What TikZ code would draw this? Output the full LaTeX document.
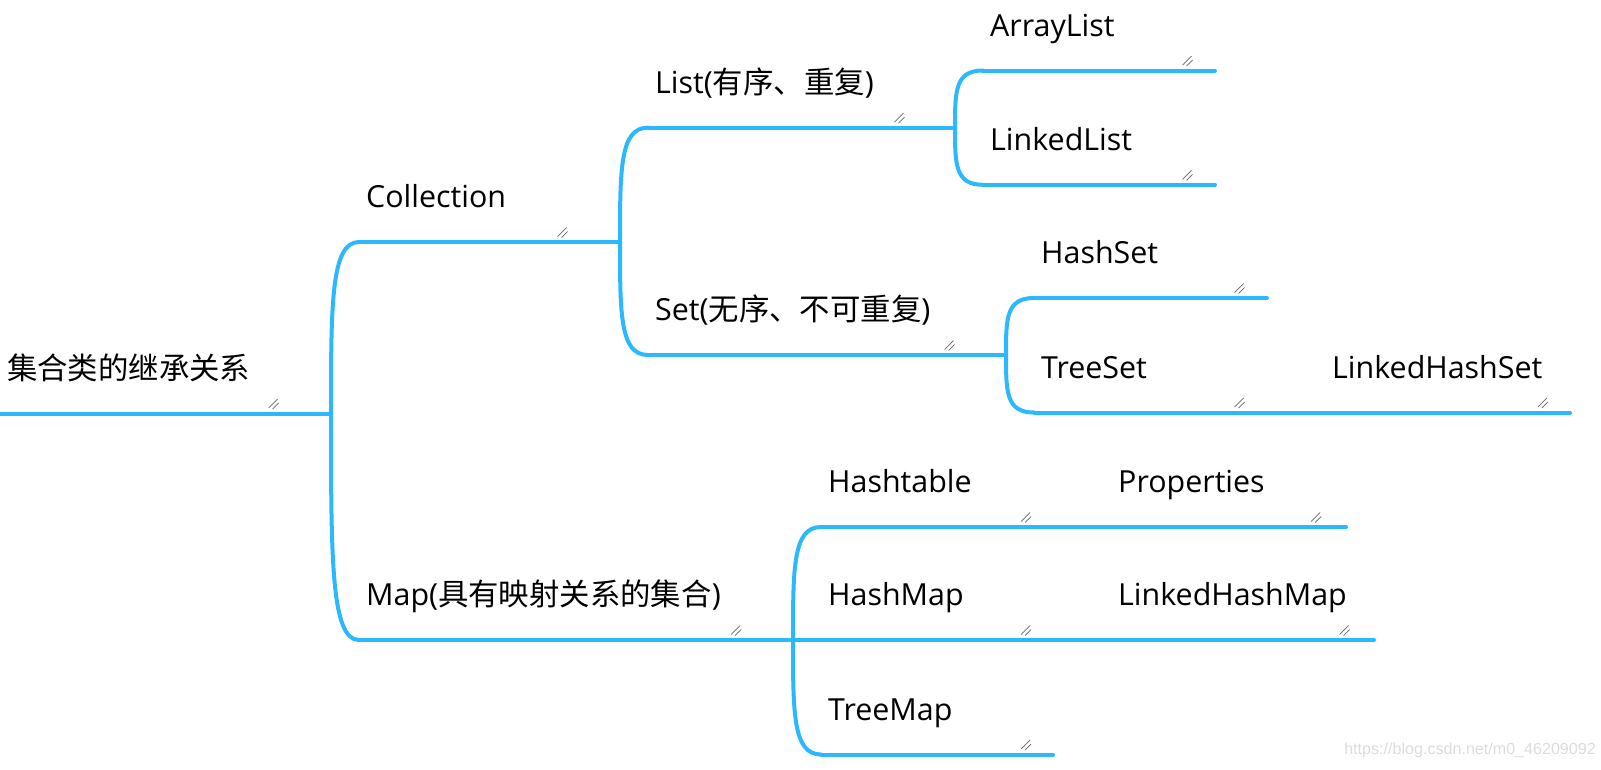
\documentclass[tikz,border=0pt]{standalone}
\usepackage{fontspec}
\setmainfont{Open Sans}
\newfontfamily\cjk{Noto Sans CJK SC}
\newfontfamily\wmfont{Liberation Sans}
\usetikzlibrary{calc}
\definecolor{branchblue}{RGB}{44,184,255}
\tikzset{
	branch/.style={draw=branchblue, line width=4pt, line cap=round},
	topic/.style={anchor=base west, inner sep=0pt, font=\fontsize{30.4}{36}\selectfont},
	grip/.pic={\draw[black!60, line width=0.7pt] (-5,4) -- (4,-5) (-1,5) -- (5,-1);}
}
\begin{document}
\begin{tikzpicture}[x=1pt, y=-1pt]
		\useasboundingbox (0,0) rectangle (1601,769);
		% topics: name / start of underline / end of underline / text
		\foreach \n/\s/\e/\t in {%
			root/{0,413.5}/{331,413.5}/{\cjk 集合类的继承关系},
			coll/{359,242}/{620,242}/{Collection},
			map/{359,640}/{793,640}/{Map({\cjk 具有映射关系的集合})},
			list/{648,127.6}/{955,127.6}/{List({\cjk 有序、重复})},
			set/{648,355}/{1006,355}/{Set({\cjk 无序、不可重复})},
			arraylist/{983,70.5}/{1215,70.5}/{ArrayList},
			linkedlist/{983,184.8}/{1215,184.8}/{LinkedList},
			hashset/{1034,298}/{1267,298}/{HashSet},
			treeset/{1034,412.5}/{1267,412.5}/{TreeSet},
			lhs/{1325,412.5}/{1570,412.5}/{LinkedHashSet},
			hashtable/{821,527}/{1053,527}/{Hashtable},
			properties/{1111,527}/{1346,527}/{Properties},
			hashmap/{821,640}/{1053,640}/{HashMap},
			lhm/{1111,640}/{1374,640}/{LinkedHashMap},
			treemap/{821,754.5}/{1053,754.5}/{TreeMap}} {
			\coordinate (\n) at (\s);
			\coordinate (\n-e) at (\e);
			\draw[branch] (\n) -- (\n-e);
			\node[topic] (\n-t) at ($(\n)+(7,-34.5)$) {\t};
		}
		% curved brackets from parent to child
		\foreach \j/\c in {root-e/coll, root-e/map, coll-e/list, coll-e/set,
			list-e/arraylist, list-e/linkedlist, set-e/hashset, set-e/treeset,
			map-e/hashtable, map-e/treemap}
		\draw[branch] (\j) .. controls ($(\j)!0.64!(\j |- \c)$) and (\j |- \c) .. (\c);
		% straight links
		\foreach \a/\b in {map-e/hashmap, treeset-e/lhs, hashtable-e/properties, hashmap-e/lhm}
		\draw[branch] (\a) -- (\b);
		% resize grips
		\foreach \n/\d in {root/57.4, coll/57.4, map/56.8, list/55.5, set/56.4,
			arraylist/27.5, linkedlist/27.5, hashset/27.4, treeset/27.4, lhs/27.2,
			hashtable/26.8, properties/29.9, hashmap/26.8, lhm/29.3, treemap/26.8}
		\pic at ($(\n-e)+(-\d,-9.5)$) {grip};
		\node[anchor=east, inner sep=0pt, text=black!14, font=\wmfont\fontsize{16.1}{18}\selectfont]
		(wm) at (1596,750) {https://blog.csdn.net/m0\_46209092};
	\end{tikzpicture}
\end{document}
